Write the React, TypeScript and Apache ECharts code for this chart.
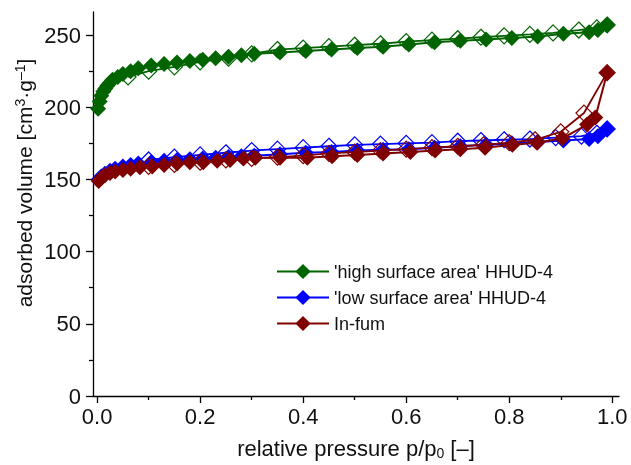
import React, { useEffect, useRef } from 'react';
import * as echarts from 'echarts';

// relative pressure (p/p0) and adsorbed volume (cm3/g)
const greenAdsP = [0.002, 0.005, 0.008, 0.012, 0.016, 0.02, 0.025, 0.03, 0.04, 0.05, 0.065, 0.08, 0.105, 0.13, 0.155, 0.18, 0.205, 0.23, 0.255, 0.28, 0.305, 0.355, 0.405, 0.455, 0.505, 0.555, 0.605, 0.655, 0.705, 0.755, 0.805, 0.855, 0.905, 0.955, 0.972, 0.99];
const greenAdsV = [199, 204, 208, 211, 213, 215, 217, 219, 221, 223, 225, 227, 229, 230, 231, 232, 233, 234, 235, 236, 237, 238, 239, 240, 241, 242, 243.5, 245, 246, 247, 248, 249, 251, 252, 253.5, 257];
const greenDesP = [0.99, 0.97, 0.935, 0.885, 0.84, 0.79, 0.745, 0.7, 0.65, 0.6, 0.55, 0.5, 0.45, 0.4, 0.35, 0.3, 0.255, 0.2, 0.15, 0.1, 0.06];
const greenDesV = [257, 255, 253.5, 251.5, 250.5, 249.5, 248.5, 247.5, 246.5, 245.5, 244, 243, 242, 241, 240, 237, 234, 231.5, 228, 225, 221];

const blueAdsP = [0.003, 0.008, 0.015, 0.025, 0.035, 0.05, 0.065, 0.08, 0.105, 0.13, 0.155, 0.18, 0.205, 0.23, 0.255, 0.28, 0.305, 0.355, 0.405, 0.455, 0.505, 0.555, 0.605, 0.655, 0.705, 0.755, 0.805, 0.855, 0.905, 0.955, 0.972, 0.99];
const blueAdsV = [150, 152, 154, 156, 157.5, 159, 160, 161, 162, 163, 163.5, 164, 164.5, 165, 165.5, 166, 166.5, 167.5, 168.5, 169, 170, 170.5, 171, 172, 173, 174, 175, 176, 177, 178, 180, 185];
const blueDesP = [0.99, 0.97, 0.94, 0.89, 0.84, 0.79, 0.745, 0.7, 0.65, 0.6, 0.55, 0.5, 0.45, 0.4, 0.35, 0.3, 0.25, 0.2, 0.15, 0.1];
const blueDesV = [185, 182, 180, 179, 178, 177.5, 177, 176.5, 175.5, 175, 174.5, 174, 173, 172, 171, 170, 168.5, 167, 165.5, 163.5];

const redAdsP = [0.003, 0.008, 0.015, 0.025, 0.035, 0.05, 0.065, 0.083, 0.107, 0.13, 0.155, 0.18, 0.206, 0.233, 0.258, 0.284, 0.307, 0.355, 0.408, 0.456, 0.505, 0.555, 0.608, 0.656, 0.705, 0.753, 0.806, 0.854, 0.903, 0.951, 0.967, 0.99];
const redAdsV = [149, 151, 153, 154.5, 155.5, 156.5, 157.5, 158.5, 159, 160, 161, 162, 162, 163, 163.5, 164.5, 165, 165, 165, 166, 167, 168, 169, 170, 171, 172, 174, 175.5, 178.5, 188, 193, 224];
const redDesP = [0.99, 0.945, 0.9, 0.85, 0.8, 0.75, 0.7, 0.65, 0.6, 0.55, 0.5, 0.45, 0.4, 0.35, 0.3, 0.25, 0.2, 0.15, 0.1];
const redDesV = [224, 196, 183, 177.5, 175.5, 174, 173, 172, 171, 170, 169, 168, 166.5, 165.5, 164.5, 163.5, 162, 160.5, 159];

const seriesNames = ["'high surface area' HHUD-4", "'low surface area' HHUD-4", 'In-fum'];
const seriesColors = ['#006400', '#0000ff', '#800000'];

const xTickValues = [0, 0.2, 0.4, 0.6, 0.8, 1.0];
const xMinorValues = [0.1, 0.3, 0.5, 0.7, 0.9];
const yTickValues = [0, 50, 100, 150, 200, 250];
const yMinorValues = [25, 75, 125, 175, 225];

const xTitle = 'relative pressure p/p{sub|0} [–]';
const yTitle = 'adsorbed volume [cm{sup|3}·g{sup|–1}]';

const zip = (p: number[], v: number[]) => p.map((x, i) => [x, v[i]]);

const FONT = '"Liberation Sans", Arial, sans-serif';

export default function App() {
  const ref = useRef<HTMLDivElement>(null);
  useEffect(() => {
    if (!ref.current) return;
    const chart = echarts.init(ref.current, undefined, { renderer: 'svg' });
    const groups = [
      [greenAdsP, greenAdsV, greenDesP, greenDesV],
      [blueAdsP, blueAdsV, blueDesP, blueDesV],
      [redAdsP, redAdsV, redDesP, redDesV],
    ];
    const series: any[] = [];
    groups.forEach((g, i) => {
      const c = seriesColors[i];
      series.push({
        name: seriesNames[i] + ' desorption',
        type: 'line',
        data: zip(g[2] as number[], g[3] as number[]),
        symbol: 'diamond',
        symbolSize: 16,
        showSymbol: true,
        lineStyle: { color: c, width: 1.8 },
        itemStyle: { color: 'rgba(255,255,255,0)', borderColor: c, borderWidth: 1.2 },
        emphasis: { disabled: true },
        z: 2 + i * 2,
      });
      series.push({
        name: seriesNames[i],
        type: 'line',
        data: zip(g[0] as number[], g[1] as number[]),
        symbol: 'diamond',
        symbolSize: 16,
        showSymbol: true,
        lineStyle: { color: c, width: 2 },
        itemStyle: { color: c },
        emphasis: { disabled: true },
        z: 3 + i * 2,
      });
    });

    const axisLine = { show: true, onZero: false, lineStyle: { color: '#000', width: 1.3 } };
    chart.setOption({
      animation: false,
      textStyle: { fontFamily: FONT },
      grid: { left: 93, right: 12, top: 12, bottom: 69, containLabel: false },
      legend: {
        data: seriesNames,
        orient: 'vertical',
        left: 271,
        top: 257,
        itemWidth: 52,
        itemHeight: 19,
        itemGap: 7,
        textStyle: { fontSize: 18, color: '#111', fontFamily: FONT, lineHeight: 19 },
        selectedMode: false,
      },
      graphic: [
        {
          type: 'text',
          x: 24,
          y: 183,
          rotation: Math.PI / 2,
          style: {
            text: yTitle,
            fontSize: 21,
            fontFamily: FONT,
            fill: '#111',
            align: 'center',
            verticalAlign: 'middle',
            rich: { sup: { fontSize: 14, verticalAlign: 'top', padding: [0, 0, 9, 0], fontFamily: FONT, fill: '#111' } },
          },
        },
      ],
      xAxis: [
        {
          type: 'value',
          min: -0.008,
          max: 1.013,
          position: 'bottom',
          axisLine,
          axisTick: { show: true, customValues: xTickValues, length: 7, lineStyle: { color: '#000', width: 1.3 } },
          axisLabel: { customValues: xTickValues, formatter: (v: number) => v.toFixed(1), fontSize: 22, color: '#111', margin: 9, fontFamily: FONT },
          splitLine: { show: false },
          name: xTitle,
          nameLocation: 'middle',
          nameGap: 40,
          nameTextStyle: {
            fontSize: 22, color: '#111', fontFamily: FONT,
            rich: { sub: { fontSize: 14, verticalAlign: 'bottom', padding: [10, 0, 0, 0], fontFamily: FONT, color: '#111' } },
          },
        },
        {
          type: 'value',
          min: -0.008,
          max: 1.013,
          position: 'bottom',
          axisLine: { show: false, onZero: false },
          axisTick: { show: true, customValues: xMinorValues, length: 4, lineStyle: { color: '#000', width: 1.3 } },
          axisLabel: { show: false },
          splitLine: { show: false },
        },
      ],
      yAxis: [
        {
          type: 'value',
          min: 0,
          max: 266,
          position: 'left',
          axisLine,
          axisTick: { show: true, customValues: yTickValues, length: 7, lineStyle: { color: '#000', width: 1.3 } },
          axisLabel: { customValues: yTickValues, fontSize: 22, color: '#111', margin: 12, fontFamily: FONT },
          splitLine: { show: false },
        },
        {
          type: 'value',
          min: 0,
          max: 266,
          position: 'left',
          axisLine: { show: false, onZero: false },
          axisTick: { show: true, customValues: yMinorValues, length: 4, lineStyle: { color: '#000', width: 1.3 } },
          axisLabel: { show: false },
          splitLine: { show: false },
        },
      ],
      series,
    });
    return () => chart.dispose();
  }, []);
  return <div ref={ref} style={{ position: 'fixed', left: 0, top: 0, width: 631, height: 465 }} />;
}
